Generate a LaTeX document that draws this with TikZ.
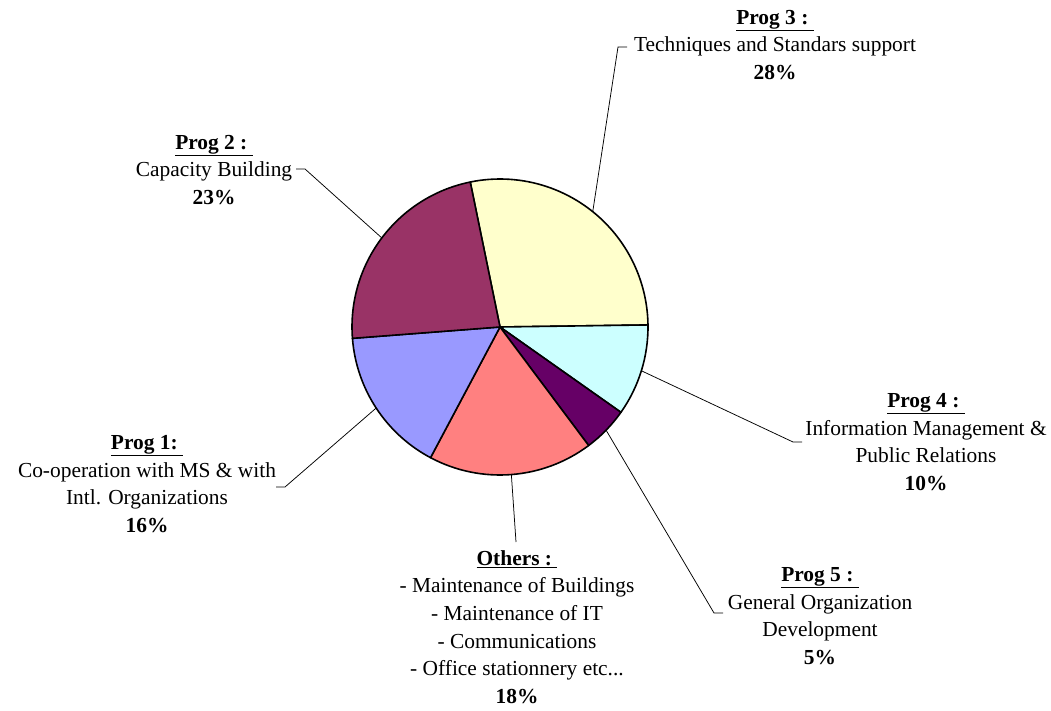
\documentclass[tikz,border=0pt]{standalone}
\usepackage{fontspec}
\setmainfont{Liberation Serif}
\usetikzlibrary{calc}
\definecolor{cYellow}{HTML}{FFFFCC}
\definecolor{cCyan}{HTML}{CCFFFF}
\definecolor{cPurple}{HTML}{660066}
\definecolor{cSalmon}{HTML}{FF8080}
\definecolor{cLav}{HTML}{9999FF}
\definecolor{cPlum}{HTML}{993366}
\begin{document}
\begin{tikzpicture}[x=1pt,y=1pt,
  slice/.style={draw=black,line width=1.6pt,line join=round},
  leader/.style={draw=black,line width=0.75pt},
  lbl/.style={align=center,inner sep=0pt,font=\fontsize{21.4pt}{27.7pt}\selectfont}]
\useasboundingbox (0,0) rectangle (1051,710);
\coordinate (C) at (500,383);
% slices
\filldraw[slice,fill=cYellow] (C) -- ++(101.6:148) arc[start angle=101.6,end angle=0.8,radius=148] -- cycle;
\filldraw[slice,fill=cCyan] (C) -- ++(0.8:148) arc[start angle=0.8,end angle=-35.2,radius=148] -- cycle;
\filldraw[slice,fill=cPurple] (C) -- ++(-35.2:148) arc[start angle=-35.2,end angle=-53.2,radius=148] -- cycle;
\filldraw[slice,fill=cSalmon] (C) -- ++(-53.2:148) arc[start angle=-53.2,end angle=-118.0,radius=148] -- cycle;
\filldraw[slice,fill=cLav] (C) -- ++(-118.0:148) arc[start angle=-118.0,end angle=-175.6,radius=148] -- cycle;
\filldraw[slice,fill=cPlum] (C) -- ++(-175.6:148) arc[start angle=-175.6,end angle=-258.4,radius=148] -- cycle;
% leader anchor points on the pie
\coordinate (a3) at ($(C)+(51.2:148)$);
\coordinate (a2) at ($(C)+(143.0:148)$);
\coordinate (a4) at ($(C)+(-17.2:148)$);
\coordinate (a5) at ($(C)+(-44.2:148)$);
\coordinate (ao) at ($(C)+(-85.6:148)$);
\coordinate (a1) at ($(C)+(-146.8:148)$);
% corners
\coordinate (k3) at (618,663); \coordinate (t3) at (627,663);
\coordinate (k2) at (305,541); \coordinate (t2) at (296,541);
\coordinate (k4) at (793,268); \coordinate (t4) at (802,268);
\coordinate (k5) at (714,97);  \coordinate (t5) at (723,97);
\coordinate (ko) at (516,168);
\coordinate (k1) at (285,223); \coordinate (t1) at (276,223);
% labels
\node[lbl] (L3) at (775,665) {\textbf{\underline{Prog 3 :\ }}\\Techniques and Standars support\\\textbf{28\%}};
\node[lbl] (L2) at (214,540) {\textbf{\underline{Prog 2 :\ }}\\Capacity Building\\\textbf{23\%}};
\node[lbl] (L4) at (926,268) {\textbf{\underline{Prog 4 :\ }}\\Information Management \&\\Public Relations\\\textbf{10\%}};
\node[lbl] (L5) at (820,94) {\textbf{\underline{Prog 5 :\ }}\\General Organization\\Development\\\textbf{5\%}};
\node[lbl] (LO) at (517,83) {\textbf{\underline{Others :\ }}\\- Maintenance of Buildings\\- Maintenance of IT\\- Communications\\- Office stationnery etc...\\\textbf{18\%}};
\node[lbl] (L1) at (147,226) {\textbf{\underline{Prog 1:\ }}\\Co-operation with MS \& with\\Intl. Organizations\\\textbf{16\%}};
% leaders
\draw[leader] (a3) -- (k3) -- (t3);
\draw[leader] (a2) -- (k2) -- (t2);
\draw[leader] (a4) -- (k4) -- (t4);
\draw[leader] (a5) -- (k5) -- (t5);
\draw[leader] (ao) -- (ko);
\draw[leader] (a1) -- (k1) -- (t1);
\end{tikzpicture}
\end{document}
